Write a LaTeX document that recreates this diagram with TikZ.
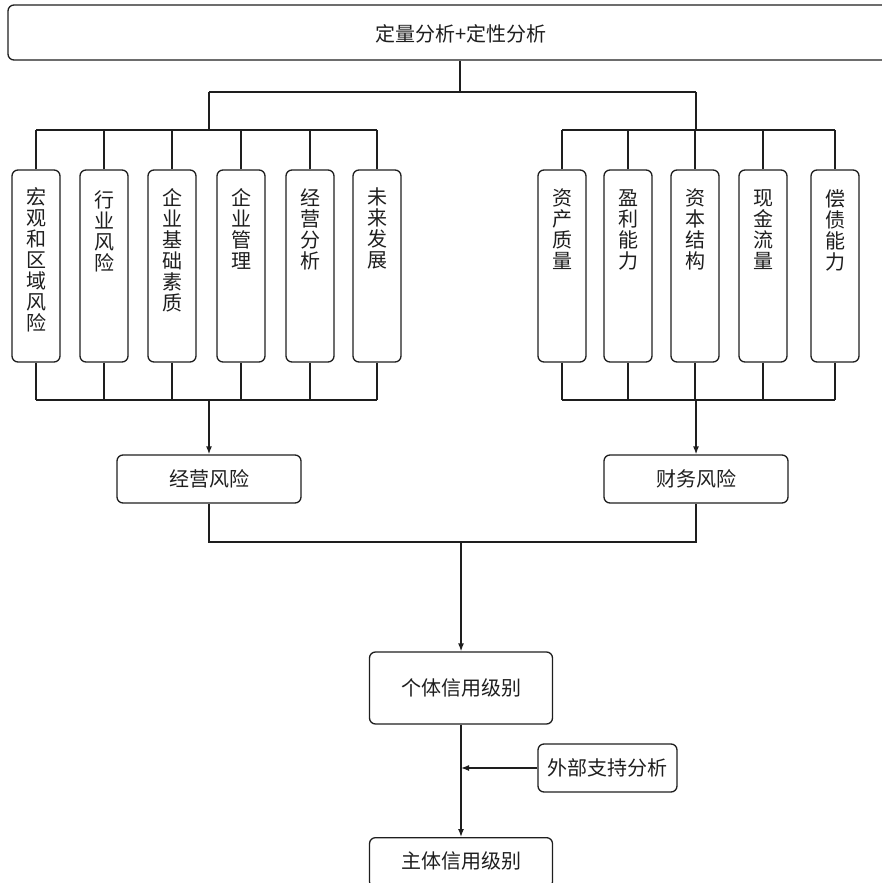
\documentclass[tikz,border=0pt]{standalone}
\usepackage{fontspec}
\setmainfont{Noto Sans CJK SC}
\usetikzlibrary{arrows.meta}
\definecolor{ink}{RGB}{30,30,30}
\begin{document}
\begin{tikzpicture}[x=1pt,y=-1pt,
  every node/.style={text=ink, font=\fontsize{20pt}{21pt}\selectfont},
  box/.style={draw=ink, rounded corners=6pt, line width=1.3pt, inner sep=0pt},
  vbox/.style={box, minimum width=48pt, minimum height=192pt},
  vtxt/.style={anchor=north, align=center, inner sep=0pt},
  conn/.style={draw=ink, line width=1.3pt},
  arr/.style={conn, -{Latex[length=8pt,width=6pt]}}]
\useasboundingbox (0,0) rectangle (882,883);
% top box
\node[box, minimum width=904pt, minimum height=55pt] (top) at (460,32.5) {};
\node (toptxt) at (461,34) {定量分析+定性分析};
% helper coordinates
\coordinate (s0) at (460,92);
\coordinate (sL) at (209,92);
\coordinate (sR) at (696,92);
\coordinate (yT) at (0,130);
\coordinate (yB) at (0,400);
\coordinate (yM) at (0,542);
% left group
\node[vbox] (L1) at (36,266) {};
\node[vbox] (L2) at (104,266) {};
\node[vbox] (L3) at (172,266) {};
\node[vbox] (L4) at (241,266) {};
\node[vbox] (L5) at (310,266) {};
\node[vbox] (L6) at (377,266) {};
\node[vtxt] (t1) at (L1.north |- 0,187) {宏\\观\\和\\区\\域\\风\\险};
\node[vtxt] (t2) at (L2.north |- 0,190) {行\\业\\风\\险};
\node[vtxt] (t3) at (L3.north |- 0,188) {企\\业\\基\\础\\素\\质};
\node[vtxt] (t4) at (L4.north |- 0,188) {企\\业\\管\\理};
\node[vtxt] (t5) at (L5.north |- 0,188) {经\\营\\分\\析};
\node[vtxt] (t6) at (L6.north |- 0,188) {未\\来\\发\\展};
% right group
\node[vbox] (R1) at (562,266) {};
\node[vbox] (R2) at (628,266) {};
\node[vbox] (R3) at (695,266) {};
\node[vbox] (R4) at (763,266) {};
\node[vbox] (R5) at (835,266) {};
\node[vtxt] (u1) at (R1.north |- 0,189) {资\\产\\质\\量};
\node[vtxt] (u2) at (R2.north |- 0,189) {盈\\利\\能\\力};
\node[vtxt] (u3) at (R3.north |- 0,189) {资\\本\\结\\构};
\node[vtxt] (u4) at (R4.north |- 0,189) {现\\金\\流\\量};
\node[vtxt] (u5) at (R5.north |- 0,189) {偿\\债\\能\\力};
% risk boxes
\node[box, minimum width=184pt, minimum height=48pt] (jy) at (209,479) {经营风险};
\node[box, minimum width=184pt, minimum height=48pt] (cw) at (696,479) {财务风险};
% credit boxes
\node[box, minimum width=183pt, minimum height=72pt] (gt) at (461,688) {个体信用级别};
\node[box, minimum width=139pt, minimum height=48pt] (wb) at (607.5,768) {外部支持分析};
\node[box, minimum width=183pt, minimum height=50pt, anchor=north] (zt) at (461,837) {};
\node (zttxt) at (461,861) {主体信用级别};
% connectors from top
\draw[conn] (top.south) -- (s0);
\draw[conn] (sL) -- (sR);
\draw[conn] (sL) -- (sL |- yT);
\draw[conn] (sR) -- (sR |- yT);
\draw[conn] (L1.north |- yT) -- (L6.north |- yT);
\draw[conn] (R1.north |- yT) -- (R5.north |- yT);
\foreach \b in {L1,L2,L3,L4,L5,L6,R1,R2,R3,R4,R5}{
  \draw[conn] (\b.north) -- (\b.north |- yT);
  \draw[conn] (\b.south) -- (\b.south |- yB);
}
\draw[conn] (L1.south |- yB) -- (L6.south |- yB);
\draw[conn] (R1.south |- yB) -- (R5.south |- yB);
\draw[arr] (jy.north |- yB) -- (jy.north);
\draw[arr] (cw.north |- yB) -- (cw.north);
% to individual credit
\draw[conn] (jy.south) -- (jy.south |- yM) -- (cw.south |- yM) -- (cw.south);
\draw[arr] (gt.north |- yM) -- (gt.north);
\draw[arr] (gt.south) -- (zt.north);
\draw[arr] (wb.west) -- (wb.west -| gt.south);
\end{tikzpicture}
\end{document}
